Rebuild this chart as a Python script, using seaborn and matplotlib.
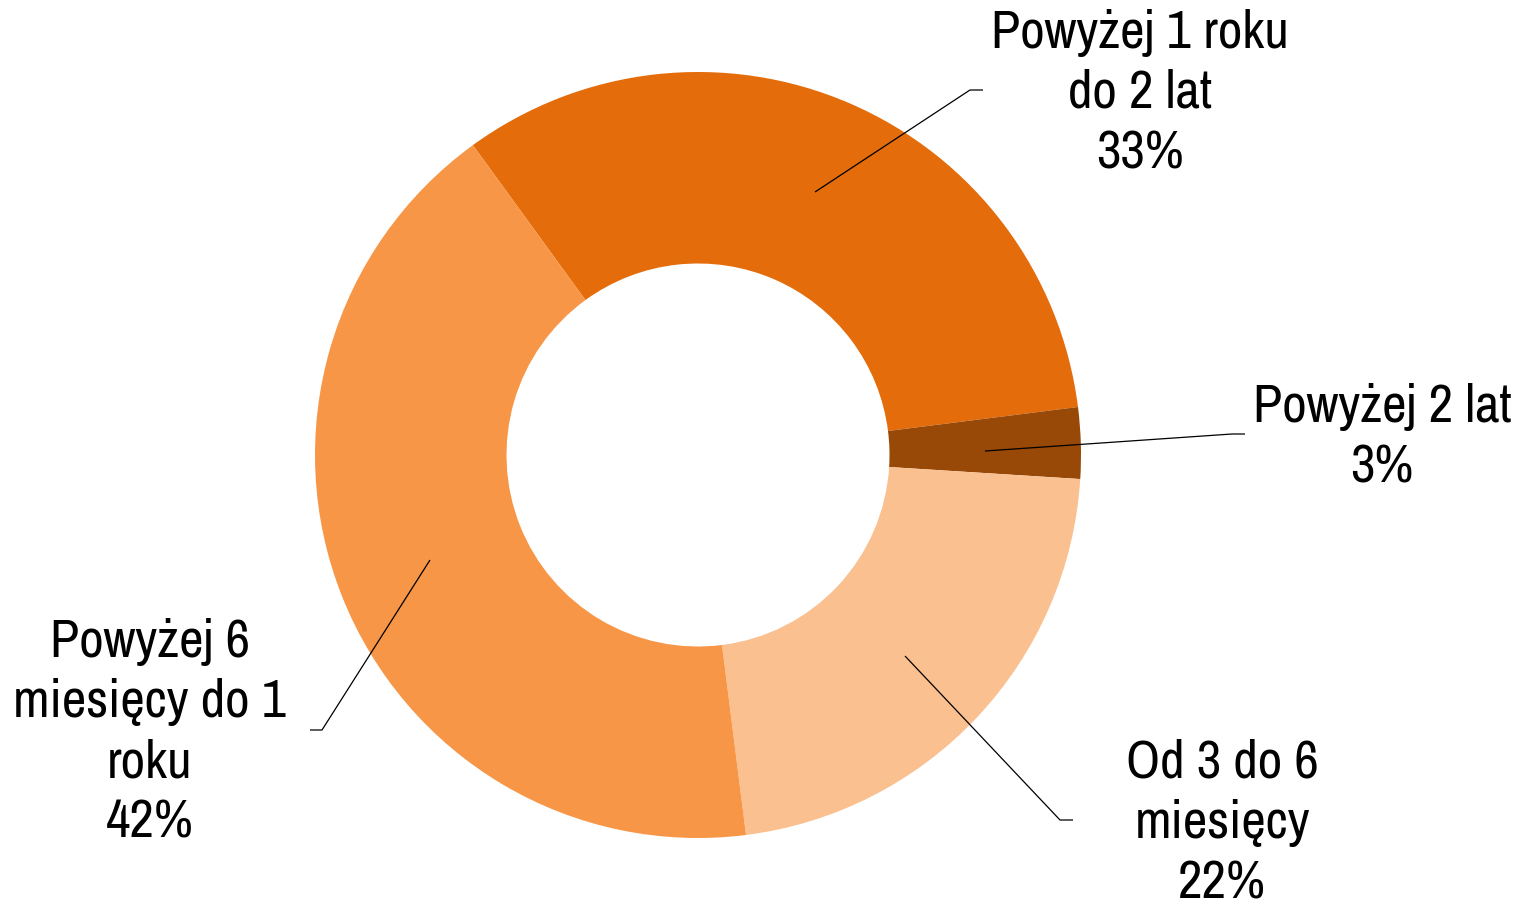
import matplotlib
matplotlib.use("Agg")
import matplotlib.pyplot as plt
from matplotlib import font_manager
import seaborn as sns

# Udział bezrobotnych wg czasu pozostawania bez pracy
categories = ["Powyżej 1 roku\ndo 2 lat", "Powyżej 2 lat", "Od 3 do 6\nmiesięcy",
              "Powyżej 6\nmiesięcy do 1\nroku"]
shares = [33, 3, 22, 42]
colors = ["#E46C0A", "#984807", "#FAC090", "#F79646"]

sns.set_theme(style="white")

# prefer a narrow sans face; otherwise a regular one at a smaller size
narrow = None
for f in font_manager.fontManager.ttflist:
    if ("Narrow" in f.name or "Condensed" in f.name) and f.style == "normal" \
            and f.weight in (400, "normal", "regular"):
        narrow = f.name
        break
if narrow:
    family, fsize, lsp = [narrow, "DejaVu Sans"], 38.5, 1.31
else:
    family, fsize, lsp = ["Liberation Sans", "DejaVu Sans"], 31.5, 1.5
plt.rcParams["font.family"] = family

W, H = 1520, 906
fig = plt.figure(figsize=(W / 100, H / 100), dpi=100)
ax = fig.add_axes([0, 0, 1, 1])

cx, cy, r = 698, H - 455, 383
ax.pie(shares, colors=colors, startangle=126, counterclock=False,
       center=(cx, cy), radius=r, frame=True,
       wedgeprops=dict(width=r * 0.5, linewidth=0))
ax.set_xlim(0, W)
ax.set_ylim(0, H)
ax.set_aspect("equal")
ax.axis("off")

# label placement (pixel layout, y measured from the top)
text_pos = [(1140, 93), (1382, 437), (1222, 823), (150, 732)]
leaders = [
    [(815, 192), (970, 90), (983, 90)],
    [(985, 451), (1232, 434), (1245, 434)],
    [(905, 656), (1060, 820), (1073, 820)],
    [(430, 560), (322, 730), (310, 730)],
]

for cat, val, (tx, ty), pts in zip(categories, shares, text_pos, leaders):
    xs = [p[0] for p in pts]
    ys = [H - p[1] for p in pts]
    ax.plot(xs, ys, color="black", linewidth=0.9, solid_capstyle="butt")
    ax.text(tx, H - ty, f"{cat}\n{val}%", ha="center", va="center",
            fontsize=fsize, linespacing=lsp, color="black")

fig.savefig("out.png", dpi=100)
